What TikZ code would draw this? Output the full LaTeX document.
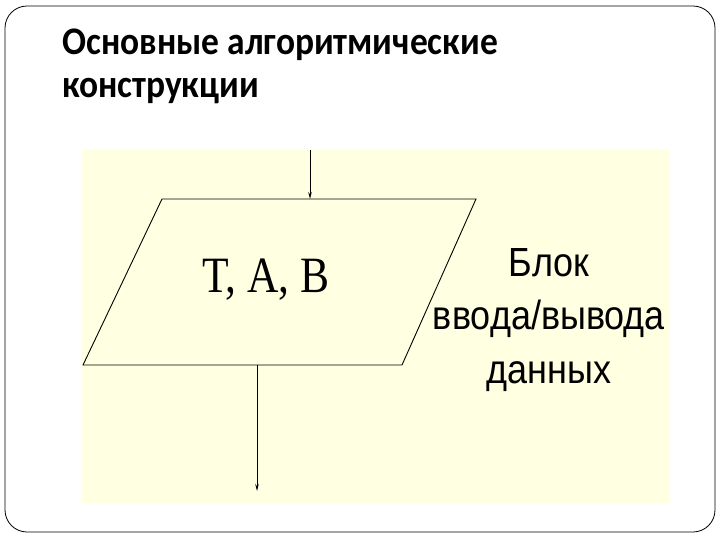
\documentclass[tikz,border=0pt]{standalone}
\usepackage{fontspec}
\setmainfont{Liberation Serif}
\newfontfamily\titlefont{Carlito}
\newfontfamily\labelfont{Liberation Sans}
\usetikzlibrary{arrows.meta}
\definecolor{bgyellow}{RGB}{255,255,226}
\tikzset{
  flow/.style={draw=black, line width=0.9pt, -{Stealth[length=7pt,width=3.5pt]}},
  shapeline/.style={draw=black, line width=0.9pt},
}
\begin{document}
\begin{tikzpicture}[x=1pt,y=-1pt]
\useasboundingbox (0,0) rectangle (720,540);
\fill[white] (0,0) rectangle (720,540);
\draw[line width=0.8pt, rounded corners=22pt] (5,6) rectangle (715,532);
\node[anchor=west, inner sep=0pt] (title) at (62,67) {\scalebox{1}[1.1]{\titlefont\bfseries\fontsize{35.5}{39}\selectfont\begin{tabular}{@{}l@{}}Основные алгоритмические\\конструкции\end{tabular}}};
\fill[bgyellow] (82,150) rectangle (670,503);
\coordinate (p1) at (162,199);
\coordinate (p2) at (476,199);
\coordinate (p3) at (402,365);
\coordinate (p4) at (83,365);
\fill[bgyellow] (p1) -- (p2) -- (p3) -- (p4) -- cycle;
\draw[shapeline] (p1) -- (p2) -- (p3) -- (p4) -- cycle;
\node[inner sep=0pt] (vars) at (266,280) {\scalebox{1}[1.17]{\fontsize{43.5}{48}\selectfont T, A, B}};
\coordinate (inTop) at (310,150);
\coordinate (inEnd) at (310,199);
\coordinate (outStart) at (257,365);
\coordinate (outEnd) at (257,491);
\draw[flow] (inTop) -- (inEnd);
\draw[flow] (outStart) -- (outEnd);
\node[inner sep=0pt] (label) at (549,319) {\scalebox{1}[1.13]{\labelfont\fontsize{36}{47.5}\selectfont\begin{tabular}{@{}c@{}}Блок\\ввода/вывода\\данных\end{tabular}}};
\end{tikzpicture}
\end{document}
